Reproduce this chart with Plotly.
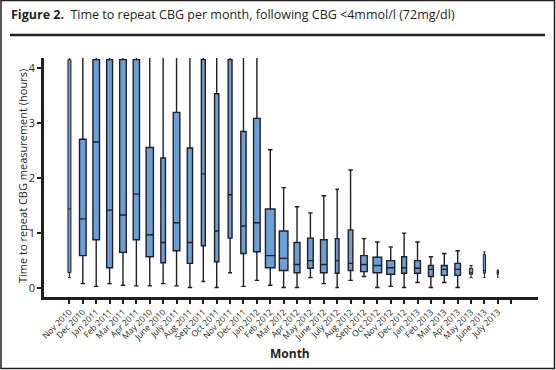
import plotly.graph_objects as go

months = ["Nov 2010", "Dec 2010", "Jan 2011", "Feb 2011", "Mar 2011", "Apr 2011",
          "May 2010", "June 2010", "July 2011", "Aug 2011", "Sept 2011", "Oct 2011",
          "Nov 2011", "Dec 2011", "Jan 2012", "Feb 2012", "Mar 2012", "Apr 2012",
          "May 2012", "June 2012", "July 2012", "Aug 2012", "Sept 2012", "Oct 2012",
          "Nov 2012", "Dec 2012", "Jan 2013", "Feb 2013", "Mar 2013", "Apr 2013",
          "May 2013", "June 2013", "July 2013"]

lower_whisker = [0.19, 0.08, 0.03, 0.08, 0.05, 0.04, 0.04, 0.08, 0.04, 0.01, 0.12, 0.01,
                 0.28, 0.03, 0.14, 0.05, 0.01, 0.01, 0.19, 0.08, 0.01, 0.14, 0.21, 0.01,
                 0.03, 0.01, 0.10, 0.01, 0.10, 0.01, 0.19, 0.19, 0.19]
q1 = [0.28, 0.59, 0.88, 0.37, 0.65, 0.88, 0.57, 0.46, 0.68, 0.45, 0.77, 0.48,
      0.91, 0.63, 0.66, 0.37, 0.32, 0.28, 0.36, 0.28, 0.27, 0.32, 0.30, 0.28,
      0.25, 0.27, 0.27, 0.21, 0.23, 0.23, 0.25, 0.27, 0.25]
median = [1.44, 1.26, 2.66, 1.42, 1.33, 1.71, 0.97, 0.83, 1.19, 0.83, 2.08, 1.04,
          1.70, 1.13, 1.19, 0.59, 0.54, 0.43, 0.50, 0.43, 0.50, 0.45, 0.43, 0.41,
          0.37, 0.37, 0.36, 0.34, 0.34, 0.34, 0.28, 0.32, 0.28]
q3 = [4.16, 2.71, 4.16, 4.16, 4.16, 4.16, 2.56, 2.37, 3.20, 2.55, 4.16, 3.54,
      4.16, 2.85, 3.09, 1.44, 1.04, 0.83, 0.91, 0.88, 0.90, 1.06, 0.59, 0.56,
      0.50, 0.57, 0.50, 0.41, 0.41, 0.45, 0.36, 0.61, 0.32]
upper_whisker = [4.6, 4.6, 4.6, 4.6, 4.6, 4.6, 4.6, 4.6, 4.6, 4.6, 4.6, 4.6,
                 4.6, 4.6, 4.6, 2.52, 1.83, 1.48, 1.37, 1.68, 1.80, 2.15, 0.90, 0.84,
                 0.75, 1.00, 0.84, 0.57, 0.63, 0.68, 0.41, 0.66, 0.33]

y_ticks = [0, 1, 2, 3, 4]

# style: drawn box widths in pixels (as seen in the figure)
box_px = [4, 8, 8, 7.3, 8, 7.7, 8.7, 6, 8, 6.7, 5.3, 5.7, 5.3, 6.7, 8, 11, 10, 7.3,
          7, 8, 5, 6, 8, 10, 9.3, 6.3, 7.3, 6.3, 7.3, 7, 4.3, 3.2, 2.4]

W, H = 556, 370
L, R, T, B = 44, 18, 58, 73
PW, PH = W - L - R, H - T - B
XR = [-1.9, 35.0]
px_per_unit = PW / (XR[1] - XR[0])

INK = "#231F20"
FILL = "#6C9FD7"
FONT = "Open Sans"

fig = go.Figure()
for i, m in enumerate(months):
    lw = 1.4 if box_px[i] >= 5 else 1.0
    wpx = max(box_px[i] - lw, 1.0)
    fig.add_trace(go.Box(
        x=[i], q1=[q1[i]], median=[median[i]], q3=[q3[i]],
        lowerfence=[lower_whisker[i]], upperfence=[upper_whisker[i]],
        width=wpx / px_per_unit,
        whiskerwidth=min(1.0, 4.5 / wpx),
        fillcolor=FILL, line=dict(color=INK, width=lw),
        showlegend=False, hoverinfo="skip", name=m,
    ))

def px_x(p):
    return (p - L) / PW

def px_y(p):
    return (H - B - p) / PH

fig.update_layout(
    width=W, height=H,
    margin=dict(l=L, r=R, t=T, b=B, autoexpand=False),
    paper_bgcolor="white", plot_bgcolor="white",
    font=dict(family=FONT, color=INK),
    xaxis=dict(
        range=XR, tickmode="array",
        tickvals=list(range(len(months) + 1)),
        ticktext=months + [""],
        tickangle=-45, tickfont=dict(size=8.5),
        showline=True, linewidth=2.5, linecolor=INK,
        ticks="outside", ticklen=4, tickwidth=2, tickcolor=INK,
        showgrid=False, zeroline=False, automargin=False,
    ),
    yaxis=dict(
        range=[-0.163, 4.19], tickmode="array", tickvals=y_ticks,
        ticktext=[str(v) for v in y_ticks], tickfont=dict(size=11),
        showline=True, linewidth=2.5, linecolor=INK,
        ticks="outside", ticklen=4, tickwidth=2, tickcolor=INK,
        showgrid=False, zeroline=False, automargin=False,
    ),
    annotations=[
        dict(text="<b>Figure 2.</b>  Time to repeat CBG per month, following CBG &lt;4mmol/l (72mg/dl)",
             xref="paper", yref="paper", x=px_x(9), y=px_y(15),
             xanchor="left", yanchor="middle", showarrow=False,
             font=dict(size=12.5, color=INK)),
        dict(text="Time to repeat CBG measurement (hours)",
             xref="paper", yref="paper", x=px_x(22), y=px_y(176),
             xanchor="center", yanchor="middle", textangle=-90, showarrow=False,
             font=dict(size=11, color=INK)),
        dict(text="<b>Month</b>",
             xref="paper", yref="paper", x=px_x(290), y=px_y(353),
             xanchor="center", yanchor="middle", showarrow=False,
             font=dict(size=12, color=INK)),
    ],
    shapes=[
        dict(type="line", xref="paper", yref="paper",
             x0=px_x(10), x1=px_x(545), y0=px_y(35), y1=px_y(35),
             line=dict(color=INK, width=2.5)),
        dict(type="rect", xref="paper", yref="paper",
             x0=px_x(1), x1=px_x(554.5), y0=px_y(368.5), y1=px_y(0.5),
             line=dict(color=INK, width=1.5), fillcolor="rgba(0,0,0,0)"),
    ],
)

fig.write_html(
    "out.html",
    config={"displayModeBar": False},
    post_script="document.body.style.margin='0';document.body.style.padding='0';document.body.style.overflow='hidden';",
)
